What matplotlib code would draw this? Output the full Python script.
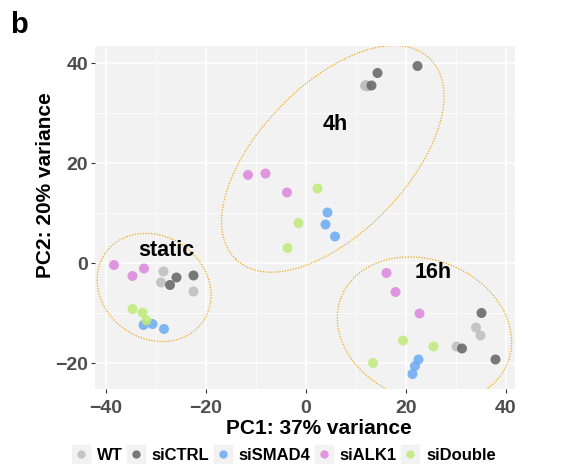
import numpy as np
import matplotlib
matplotlib.use("Agg")
import matplotlib.pyplot as plt
from matplotlib.lines import Line2D
from matplotlib.legend_handler import HandlerTuple

plt.rcParams['font.family'] = ['Liberation Sans', 'DejaVu Sans']

groups = ["WT", "siCTRL", "siSMAD4", "siALK1", "siDouble"]
colors = {"WT": "#BDBDBD", "siCTRL": "#636363", "siSMAD4": "#6AA9F2",
          "siALK1": "#DC86DC", "siDouble": "#BEEA78"}

static_x = [-28.5, -29.0, -22.5, -25.9, -27.2, -22.5, -32.5, -30.7, -28.4, -38.4, -34.7, -32.4, -34.7, -32.7, -31.9]
static_y = [-1.7, -3.9, -5.7, -2.9, -4.4, -2.5, -12.4, -12.2, -13.2, -0.4, -2.6, -1.1, -9.2, -9.9, -11.5]
h4_x = [11.8, 12.3, 12.0, 22.3, 14.3, 13.1, 4.3, 3.9, 5.8, -11.6, -8.1, -3.8, 2.3, -1.5, -3.7]
h4_y = [35.4, 35.3, 35.6, 39.4, 38.0, 35.5, 10.1, 7.7, 5.3, 17.6, 17.9, 14.1, 14.9, 8.0, 3.0]
h16_x = [34.0, 34.9, 30.1, 35.1, 31.2, 37.9, 22.5, 21.8, 21.3, 16.1, 17.9, 22.7, 19.4, 25.5, 13.4]
h16_y = [-12.9, -14.5, -16.7, -10.0, -17.1, -19.3, -19.3, -20.6, -22.2, -2.0, -5.8, -10.1, -15.5, -16.7, -20.0]
sample_groups = ["WT"] * 3 + ["siCTRL"] * 3 + ["siSMAD4"] * 3 + ["siALK1"] * 3 + ["siDouble"] * 3
conditions = ["static", "4h", "16h"]
label_x = [-28.0, 5.8, 25.4]
label_y = [2.4, 27.6, -2.0]
cond_x = [static_x, h4_x, h16_x]
cond_y = [static_y, h4_y, h16_y]
x_ticks = [-40, -20, 0, 20, 40]
y_ticks = [-20, 0, 20, 40]


def mvee(P, tol=0.01):
    N, d = P.shape
    Q = np.vstack([P.T, np.ones(N)])
    u = np.ones(N) / N
    err = 1.0
    while err > tol:
        X = Q @ np.diag(u) @ Q.T
        M = np.einsum("ij,ji->i", Q.T @ np.linalg.inv(X), Q)
        j = np.argmax(M)
        step = (M[j] - d - 1) / ((d + 1) * (M[j] - 1))
        new_u = (1 - step) * u
        new_u[j] += step
        err = np.linalg.norm(new_u - u)
        u = new_u
    c = P.T @ u
    A = np.linalg.inv(P.T @ np.diag(u) @ P - np.outer(c, c)) / d
    D = P - c
    m = np.max(np.einsum("ij,jk,ik->i", D, A, D))
    return c, A / m


def enclosing_ellipse(xs, ys, margin, n=200):
    P = np.column_stack([xs, ys])
    c, A = mvee(P)
    lam, V = np.linalg.eigh(A)
    a, b = 1 / np.sqrt(lam)
    t = np.linspace(0, 2 * np.pi, n)
    pts = np.column_stack([a * np.cos(t), b * np.sin(t)])
    nrm = np.column_stack([b * np.cos(t), a * np.sin(t)])
    nrm /= np.linalg.norm(nrm, axis=1)[:, None]
    pts = pts + margin * nrm
    return c + pts @ V.T


fig = plt.figure(figsize=(5.84, 4.70), dpi=100)
ax = fig.add_axes([95/584, 1 - 389/470, 420/584, 343/470])
ax.set_facecolor("#F2F2F2")
ax.set_xlim(-42.2, 41.8)
ax.set_ylim(-25.2, 43.4)
ax.set_xticks(x_ticks)
ax.set_yticks(y_ticks)
ax.set_xticks([-30, -10, 10, 30], minor=True)
ax.set_yticks([-10, 10, 30], minor=True)
ax.grid(True, which="major", color="white", lw=1.1)
ax.grid(True, which="minor", color="white", lw=0.55)
ax.set_axisbelow(True)
for s in ax.spines.values():
    s.set_visible(False)
ax.tick_params(which="major", length=3, width=0.8, color="#333333",
               labelsize=14, labelcolor="#4D4D4D")
ax.tick_params(axis="x", pad=5)
ax.tick_params(axis="y", pad=2)
ax.tick_params(which="minor", length=0)
for lab in ax.get_xticklabels() + ax.get_yticklabels():
    lab.set_fontweight("bold")

# ellipses enclosing each condition's samples and its label
for xs, ys, lx, ly in zip(cond_x, cond_y, label_x, label_y):
    e = enclosing_ellipse(list(xs) + [lx], list(ys) + [ly], margin=2.5)
    ax.plot(e[:, 0], e[:, 1], ls=(0, (1, 1.2)), color="#EFA81A", lw=0.9, zorder=2,
            clip_on=True)

for xs, ys in zip(cond_x, cond_y):
    for xv, yv, g in zip(xs, ys, sample_groups):
        ax.scatter(xv, yv, s=52, color=colors[g], alpha=0.85, edgecolors="none", zorder=3)

for name, lx, ly in zip(conditions, label_x, label_y):
    ax.text(lx, ly, name, fontsize=15.5, fontweight="bold", ha="center", va="center")

ax.set_xlabel("PC1: 37% variance", fontsize=15, fontweight="bold")
ax.set_ylabel("PC2: 20% variance", fontsize=15, fontweight="bold")
ax.xaxis.set_label_coords((318.5 - 95) / 420, -(429 - 389) / 343)
ax.yaxis.set_label_coords(-(95 - 46) / 420, (389 - 185) / 343)
ax.xaxis.label.set_va("center")
ax.yaxis.label.set_va("center")

fig.text(10/584, 1 - 25/470, "b", fontsize=21, fontweight="bold", ha="left", va="center")

handles = []
for g in groups:
    bg = Line2D([], [], marker="s", ls="none", markersize=13, color="#F2F2F2")
    dot = Line2D([], [], marker="o", ls="none", markersize=6, color=colors[g],
                 markeredgewidth=0, alpha=0.85)
    handles.append((bg, dot))
fig.legend(handles, groups, loc="center", bbox_to_anchor=(284/584, 1 - 455/470),
           ncol=5, frameon=False, handler_map={tuple: HandlerTuple(ndivide=1)},
           prop={"size": 12, "weight": "bold"}, handlelength=1.08, handletextpad=0.42,
           columnspacing=0.25, borderpad=0, borderaxespad=0)

fig.savefig("out.png", dpi=100)
